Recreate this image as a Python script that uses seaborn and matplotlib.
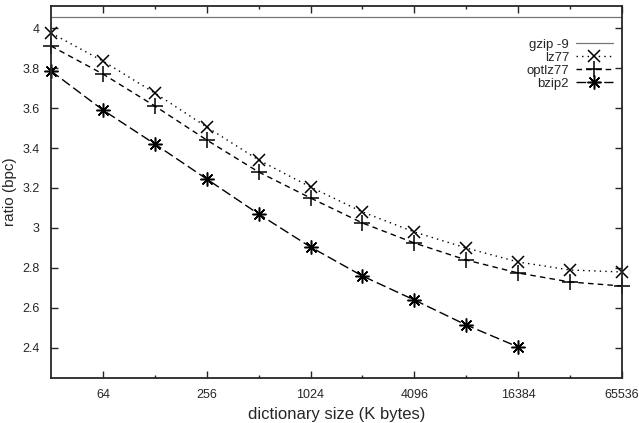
import matplotlib
matplotlib.use('Agg')
import matplotlib.pyplot as plt
import numpy as np
import pandas as pd
import seaborn as sns

# dictionary size (K bytes) and compression ratio (bits per char)
dict_size = [32, 64, 128, 256, 512, 1024, 2048, 4096, 8192, 16384, 32768, 65536]
lz77 = [3.975, 3.835, 3.675, 3.505, 3.34, 3.205, 3.08, 2.98, 2.90, 2.83, 2.79, 2.78]
optlz77 = [3.91, 3.77, 3.61, 3.44, 3.28, 3.15, 3.025, 2.925, 2.84, 2.775, 2.73, 2.71]
bzip2_size = [32, 64, 128, 256, 512, 1024, 2048, 4096, 8192, 16384]
bzip2 = [3.785, 3.59, 3.42, 3.245, 3.07, 2.905, 2.76, 2.64, 2.515, 2.405]
gzip9 = 4.055

major_ticks = [64, 256, 1024, 4096, 16384, 65536]
minor_ticks = [128, 512, 2048, 8192, 32768]
y_ticks = [2.4, 2.6, 2.8, 3.0, 3.2, 3.4, 3.6, 3.8, 4.0]
y_labels = ['2.4', '2.6', '2.8', '3', '3.2', '3.4', '3.6', '3.8', '4']

sns.set_style('ticks')
plt.rcParams['font.family'] = ['Liberation Sans', 'DejaVu Sans']

fig = plt.figure(figsize=(6.39, 4.23), dpi=100)
ax = fig.add_axes([0.0798, 0.1064, 0.8936, 0.8794])

ax.axhline(gzip9, color='#777777', lw=0.9, label='gzip -9')
sns.lineplot(x=dict_size, y=lz77, ax=ax, color='black', lw=1.0, linestyle=(0, (1, 3)),
             marker='x', markersize=9, markeredgewidth=1.1, markeredgecolor='black',
             label='lz77', clip_on=False)
sns.lineplot(x=dict_size, y=optlz77, ax=ax, color='black', lw=1.0, linestyle=(0, (4, 3)),
             marker='+', markersize=12, markeredgewidth=1.1, markeredgecolor='black',
             label='optlz77', clip_on=False)
sns.lineplot(x=bzip2_size, y=bzip2, ax=ax, color='black', lw=1.0, linestyle=(0, (7, 3)),
             marker=(8, 2, 0), markersize=10, markeredgewidth=1.1, markeredgecolor='black',
             label='bzip2', clip_on=False)

ax.set_xscale('log', base=2)
ax.set_xlim(32, 65536)
ax.set_ylim(2.25, 4.11)
ax.set_xticks(major_ticks)
ax.set_xticklabels([str(t) for t in major_ticks])
ax.set_xticks(minor_ticks, minor=True)
ax.set_xticklabels([], minor=True)
ax.set_yticks(y_ticks)
ax.set_yticklabels(y_labels)

ax.tick_params(which='major', direction='in', length=5, width=1.0, top=True, right=True,
               labelsize=9, pad=8)
ax.tick_params(which='minor', direction='in', length=2.5, width=1.0, top=True, right=True)
for spine in ax.spines.values():
    spine.set_linewidth(1.3)

ax.set_xlabel('dictionary size (K bytes)', fontsize=12)
ax.set_ylabel('ratio (bpc)', fontsize=11, labelpad=4)

leg = ax.legend(loc='upper right', bbox_to_anchor=(0.995, 0.93), frameon=False,
                markerfirst=False, fontsize=9.5, handlelength=2.8, labelspacing=0.05,
                handletextpad=0.5, borderpad=0)

fig.savefig('out.png', dpi=100)
